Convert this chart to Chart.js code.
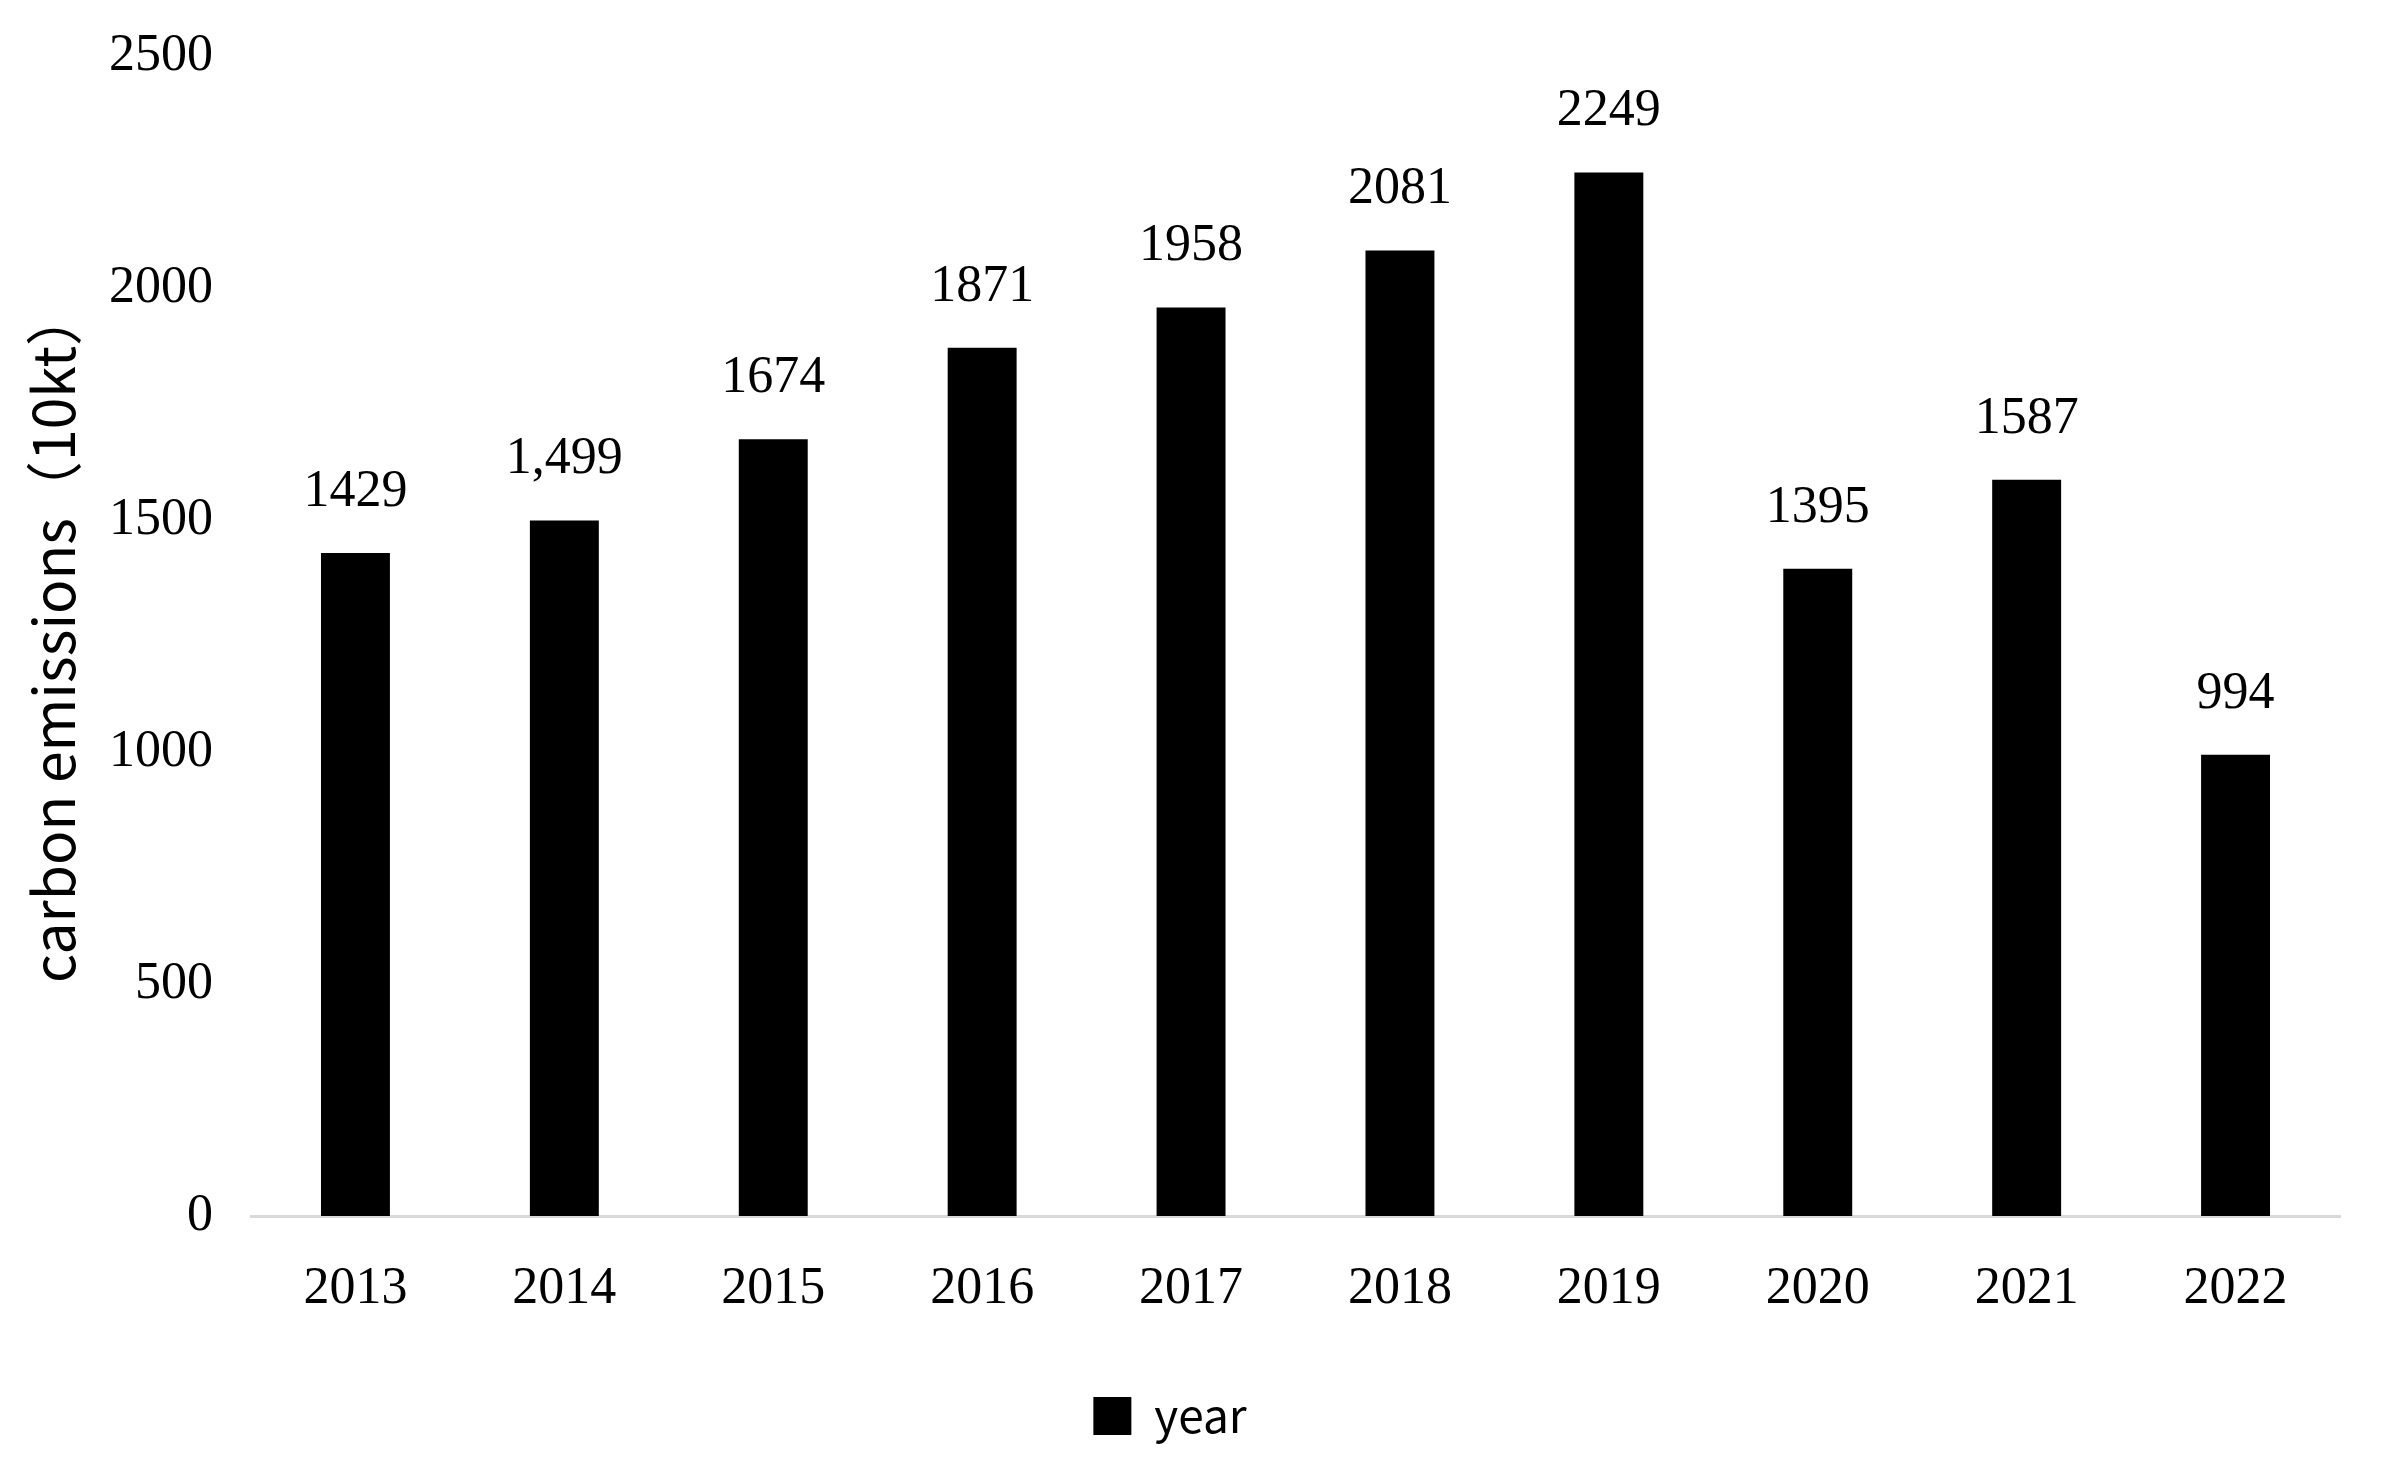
<!DOCTYPE html>
<html>
<head>
<meta charset="utf-8">
<script src="https://cdn.jsdelivr.net/npm/chart.js@4/dist/chart.umd.min.js"></script>
<style>
  html, body { margin: 0; padding: 0; background: #fff; }
  #wrap { width: 2390px; height: 1479px; }
</style>
</head>
<body>
<div id="wrap"><canvas id="chart"></canvas></div>
<script>
// 年別炭素排出量（10kt）
const years = ['2013', '2014', '2015', '2016', '2017', '2018', '2019', '2020', '2021', '2022'];
const emissions = [1429, 1499, 1674, 1871, 1958, 2081, 2249, 1395, 1587, 994];
const valueLabels = ['1429', '1,499', '1674', '1871', '1958', '2081', '2249', '1395', '1587', '994'];

const serif = "'Liberation Serif', 'Times New Roman', serif";
const sans = "'Noto Sans CJK SC', 'Noto Sans', sans-serif";

// 棒の上に数値を描く
const barLabels = {
  id: 'barLabels',
  afterDatasetsDraw(chart) {
    const ctx = chart.ctx;
    const meta = chart.getDatasetMeta(0);
    ctx.save();
    ctx.font = '52px ' + serif;
    ctx.fillStyle = '#000';
    ctx.textAlign = 'center';
    ctx.textBaseline = 'alphabetic';
    meta.data.forEach((bar, i) => {
      ctx.fillText(valueLabels[i], bar.x, bar.y - 47);
    });
    ctx.restore();
  },
};

new Chart(document.getElementById('chart'), {
  type: 'bar',
  data: {
    labels: years,
    datasets: [{
      label: 'year',
      data: emissions,
      backgroundColor: '#000',
      borderWidth: 0,
      categoryPercentage: 1,
      barPercentage: 0.33,
    }],
  },
  options: {
    responsive: true,
    maintainAspectRatio: false,
    animation: false,
    layout: { padding: { top: 56, right: 50, bottom: 30, left: 0 } },
    scales: {
      x: {
        grid: { display: false, drawTicks: false },
        border: { display: true, color: '#d9d9d9', width: 3 },
        ticks: { font: { size: 52, family: serif }, color: '#000', padding: 42 },
        afterFit(scale) { scale.height = 161; },
      },
      y: {
        min: 0,
        max: 2500,
        grid: { display: false, drawTicks: false },
        border: { display: false },
        ticks: {
          stepSize: 500,
          font: { size: 52, family: serif },
          color: '#000',
          padding: 38,
          callback: (v) => String(v),
        },
        title: {
          display: true,
          text: 'carbon emissions（10kt）',
          font: { size: 57, family: sans },
          color: '#000',
          padding: { top: 19, bottom: 0 },
        },
        afterFit(scale) {
          scale.width = 251;
          scale.paddingTop = 0;
          scale.paddingBottom = 0;
        },
      },
    },
    plugins: {
      legend: {
        position: 'bottom',
        labels: {
          font: { size: 46, family: sans },
          color: '#000',
          boxWidth: 38,
          boxHeight: 38,
          padding: 16,
        },
      },
      tooltip: { enabled: false },
    },
  },
  plugins: [barLabels],
});
</script>
</body>
</html>
